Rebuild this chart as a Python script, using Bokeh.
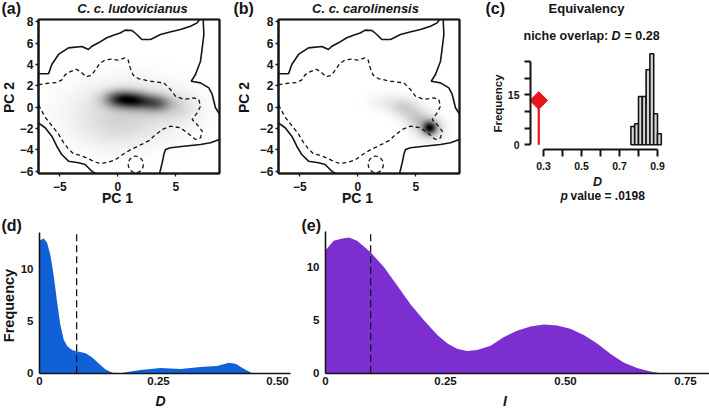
import math
import numpy as np
from bokeh.plotting import figure
from bokeh.models import FixedTicker, LinearColorMapper, Range1d
from bokeh.core.properties import value
from bokeh.layouts import row, column
from bokeh.embed import file_html
from bokeh.resources import INLINE

FONT = "Liberation Sans"
INK = "#141414"
RED = "#e3161d"
BLUE = "#1060d8"
PURPLE = "#7b2fd1"

# ---------------- data ----------------
pc1_ticks = [-5, 0, 5]
pc2_ticks = [-6, -4, -2, 0, 2, 4, 6, 8]

# background environment contour (solid), PC space
outer_top_x = [-6.84, -5.97, -5.69, -5.11, -4.25, -3.10, -2.53, -2.24, -1.66, -0.95, -0.37, 0.20, 0.64, 1.21, 1.64, 2.07, 2.82, 3.68, 4.50, 5.40, 6.27, 6.84, 7.05]
outer_top_y = [3.13, 3.13, 4.00, 4.94, 5.56, 5.68, 5.40, 5.71, 6.03, 6.50, 6.75, 6.95, 7.22, 7.19, 6.81, 6.34, 6.34, 6.81, 7.05, 7.28, 7.59, 7.90, 8.22]
outer_right_x = [7.36, 7.42, 7.28, 7.13, 6.70, 6.33, 7.13, 7.85, 8.14, 8.42, 8.76]
outer_right_y = [8.22, 6.81, 5.56, 4.31, 3.06, 2.43, 2.28, 1.81, 1.19, -0.06, -0.62]
outer_lr_x = [8.76, 7.99, 7.13, 5.69, 4.54, 4.11, 3.97, 3.83, 3.60]
outer_lr_y = [-3.03, -3.34, -3.50, -3.66, -3.81, -3.97, -4.44, -5.20, -6.21]
outer_ll_x = [-6.84, -6.26, -5.69, -5.26, -4.83, -4.25, -3.39, -2.81, -2.24, -1.94]
outer_ll_y = [-1.47, -1.93, -2.72, -3.66, -4.44, -5.06, -5.21, -5.37, -6.00, -6.21]

# inner contour (dashed), PC space
dash_x = [-6.84, -6.15, -5.28, -4.85, -4.57, -4.14, -3.56, -3.13, -2.70, -2.27, -1.84, -1.55, -1.12, -0.54, 0.03, 0.60, 0.90, 1.03, 1.33, 1.76, 2.82, 3.97, 4.54, 4.97, 5.69, 6.55, 6.98, 7.13, 6.84, 6.41, 6.84, 7.28, 7.13, 6.70, 5.98, 5.40, 4.54, 3.83, 3.10, 2.76, 2.19, 1.61, 1.03, 0.32, -0.26, -0.97, -1.55, -2.12, -2.70, -3.28, -3.84, -4.28, -4.71, -5.14, -5.72, -6.29, -6.84]
dash_y = [2.12, 2.22, 2.31, 2.53, 3.00, 3.31, 3.56, 3.25, 2.84, 3.00, 3.62, 4.09, 4.41, 4.50, 4.41, 4.62, 4.41, 3.78, 3.00, 2.68, 2.43, 2.28, 1.65, 1.03, 0.72, 0.88, 0.72, 0.09, -0.53, -1.16, -1.63, -2.25, -2.87, -3.03, -2.40, -1.93, -1.78, -2.09, -2.72, -3.10, -3.41, -3.72, -4.03, -4.50, -4.97, -5.19, -5.28, -5.06, -4.75, -4.50, -4.35, -3.88, -3.25, -2.47, -1.69, -0.91, 0.25]
ring_x = [1.55]
ring_y = [-5.37]
ring_w = [1.30]
ring_h = [1.55]

# kernel-density blobs read from the shading (centre x, centre y, spread x, spread y, weight)
lud_cx = [0.20, 1.70, 3.40, 1.00, -0.50, 5.30]
lud_cy = [0.75, 0.60, 0.35, -0.30, -2.50, 0.00]
lud_sx = [0.95, 0.90, 0.85, 3.30, 2.20, 1.10]
lud_sy = [0.55, 0.55, 0.55, 1.80, 1.30, 0.80]
lud_w = [1.00, 0.85, 0.70, 0.25, 0.08, 0.14]

car_cx = [6.25, 6.20, 5.20, 4.10, 2.50]
car_cy = [-1.95, -2.00, -1.10, -0.05, 0.50]
car_sx = [0.40, 0.85, 0.80, 0.90, 1.10]
car_sy = [0.40, 0.75, 0.60, 0.60, 0.60]
car_w = [1.00, 0.30, 0.22, 0.22, 0.08]

# (c) equivalency test: null distribution of D
eq_left = [0.76, 0.78, 0.80, 0.82, 0.84, 0.86, 0.88, 0.90]
eq_right = [0.78, 0.80, 0.82, 0.84, 0.86, 0.88, 0.90, 0.92]
eq_count = [5.5, 6.3, 14.5, 14.5, 22.5, 27.3, 9.3, 3.3]
obs_D = 0.275
obs_freq = 13.3
c_xticks = [0.3, 0.5, 0.7, 0.9]
c_xminor = [0.4, 0.6, 0.8]
c_yticks = [0, 15]
c_yminor = [5, 10, 20, 25]

# (d) density of D
d_x = [0.0, 0.009, 0.016, 0.023, 0.030, 0.037, 0.044, 0.051, 0.058, 0.069, 0.083, 0.097, 0.111, 0.125, 0.139, 0.153, 0.170, 0.188, 0.212, 0.254, 0.296, 0.338, 0.373, 0.398, 0.412, 0.430, 0.447]
d_y = [12.7, 12.9, 12.5, 11.3, 9.3, 6.8, 4.6, 3.2, 2.6, 2.2, 2.05, 1.9, 1.5, 0.9, 0.35, 0.05, 0.0, 0.15, 0.3, 0.5, 0.4, 0.6, 0.7, 1.0, 0.9, 0.4, 0.0]
d_obs = 0.078
d_ticks = [0, 0.25, 0.5]
# (e) density of I
i_x = [0.0, 0.017, 0.035, 0.049, 0.066, 0.094, 0.122, 0.149, 0.177, 0.205, 0.233, 0.254, 0.274, 0.295, 0.316, 0.344, 0.371, 0.399, 0.427, 0.455, 0.483, 0.510, 0.538, 0.566, 0.594, 0.621, 0.649, 0.677, 0.698]
i_y = [11.6, 12.5, 12.7, 12.8, 12.5, 11.4, 10.0, 8.3, 6.5, 5.0, 3.6, 2.8, 2.3, 2.1, 2.2, 2.6, 3.4, 4.0, 4.4, 4.6, 4.5, 4.2, 3.6, 2.8, 1.8, 1.0, 0.5, 0.16, 0.0]
i_obs = 0.094
i_ticks = [0, 0.25, 0.5, 0.75]
de_yticks = [0, 5, 10]

# ---------------- pixel <-> data mappings (page px) ----------------
def lin(p0, v0, p1, v1):
    return lambda p: v0 + (p - p0) * (v1 - v0) / (p1 - p0)

AX = lin(117.3, 0.0, 175.3, 5.0)
BX = lin(357.3, 0.0, 415.3, 5.0)
ABY = lin(21.3, 8.0, 170.7, -6.0)
CX = lin(543.0, 0.3, 657.0, 0.9)
CY = lin(144.3, 0.0, 94.3, 15.0)
DX = lin(39.0, 0.0, 277.0, 0.5)
DY = lin(372.7, 0.0, 268.3, 10.0)
EX = lin(325.0, 0.0, 685.0, 0.75)
EY = lin(372.7, 0.0, 266.7, 10.0)


def style_axis(ax):
    ax.major_label_text_font = FONT
    ax.major_label_text_font_style = "bold"
    ax.major_label_text_color = INK
    ax.major_tick_line_color = INK
    ax.minor_tick_line_color = INK
    ax.axis_line_color = INK
    ax.major_tick_in = 0
    ax.minor_tick_in = 0


def canvas_fig(px0, px1, py0, py1, fx, fy):
    p = figure(width=px1 - px0, height=py1 - py0,
               x_range=Range1d(fx(px0), fx(px1)), y_range=Range1d(fy(py1), fy(py0)),
               output_backend="svg", toolbar_location=None, title=None,
               min_border_left=0, min_border_right=0, min_border_top=0, min_border_bottom=0)
    p.outline_line_color = None
    p.xgrid.visible = False
    p.ygrid.visible = False
    p.background_fill_color = "white"
    p.border_fill_color = "white"
    for ax in (p.xaxis[0], p.yaxis[0]):
        style_axis(ax)
    return p


def txt(p, fx, fy, px, py, text, size, style="bold", align="center", angle=0.0):
    p.text(x=[fx(px)], y=[fy(py)], text=[text], text_font=value(FONT),
           text_font_size=value(f"{size}px"), text_font_style=value(style),
           text_align=value(align), text_baseline=value("middle"), angle=angle,
           text_color=INK)


GRAYS = ["#%02x%02x%02x" % (v, v, v) for v in range(255, -1, -1)]


def density(xr, yr, cx, cy, sx, sy, w):
    gx = np.linspace(xr[0], xr[1], 180)
    gy = np.linspace(yr[0], yr[1], 152)
    X, Y = np.meshgrid(gx, gy)
    Z = np.zeros_like(X)
    for a, b, c, d, e in zip(cx, cy, sx, sy, w):
        Z += e * np.exp(-0.5 * (((X - a) / c) ** 2 + ((Y - b) / d) ** 2))
    return Z


def niche_panel(px0, px1, fx, box_px, blobs, letter, title, letter_x, title_x, pc2_x, pc1_x):
    fy = ABY
    p = canvas_fig(px0, px1, 0, 205, fx, fy)
    bl, br = fx(box_px[0]), fx(box_px[1])
    bt, bb = fy(19), fy(173)
    il, ir = fx(box_px[0] + 1), fx(box_px[1] - 1)
    it, ib = fy(20), fy(172)
    Z = density((il, ir), (ib, it), *blobs)
    mapper = LinearColorMapper(palette=GRAYS, low=0, high=float(Z.max()) * 0.97)
    p.image(image=[Z], x=il, y=ib, dw=ir - il, dh=it - ib, color_mapper=mapper)
    # plot box: a polygon outline, four edge segments and a closed polyline
    box_xs = [bl, br, br, bl, bl]
    box_ys = [bb, bb, bt, bt, bb]
    p.multi_line(xs=[box_xs, outer_top_x, outer_right_x, outer_lr_x, outer_ll_x],
                 ys=[box_ys, outer_top_y, outer_right_y, outer_lr_y, outer_ll_y],
                 line_color=INK, line_width=1.6)
    p.quad(left=[bl], right=[br], bottom=[bb], top=[bt], fill_color=None,
           fill_alpha=0, line_color=INK, line_width=1.6)
    p.segment(x0=[bl, br, br, bl], y0=[bb, bb, bt, bt], x1=[br, br, bl, bl],
              y1=[bb, bt, bt, bb], line_color=INK, line_width=1.6)
    p.line(dash_x, dash_y, line_color=INK, line_width=1.3, line_dash="4 3")
    p.ellipse(x=ring_x, y=ring_y, width=ring_w, height=ring_h, fill_color=None,
              line_color=INK, line_width=1.3, line_dash="4 3")
    xa, ya = p.xaxis[0], p.yaxis[0]
    xa.ticker = FixedTicker(ticks=pc1_ticks)
    ya.ticker = FixedTicker(ticks=pc2_ticks)
    xa.fixed_location = bb
    ya.fixed_location = bl
    xa.bounds = (bl, br)
    ya.bounds = (bb, bt)
    for ax in (xa, ya):
        ax.axis_line_color = INK
        ax.axis_line_width = 1.6
        ax.major_tick_out = 3
        ax.major_tick_line_width = 1.3
        ax.major_label_text_font_size = "12px"
    xa.major_label_standoff = 5
    ya.major_label_standoff = 2
    txt(p, fx, fy, letter_x, 8, letter, 16, align="left")
    txt(p, fx, fy, title_x, 8, title, 13, style="bold italic")
    txt(p, fx, fy, pc2_x, 97, "PC 2", 14, angle=math.pi / 2)
    txt(p, fx, fy, pc1_x, 197, "PC 1", 14)
    return p


pa = niche_panel(0, 232, AX, (38, 219), (lud_cx, lud_cy, lud_sx, lud_sy, lud_w),
                 "(a)", "C. c. ludovicianus", 1, 132, 8, 117)
pb = niche_panel(232, 462, BX, (278, 459), (car_cx, car_cy, car_sx, car_sy, car_w),
                 "(b)", "C. c. carolinensis", 233, 365, 243, 357)

# ---- (c) ----
pc = canvas_fig(462, 709, 0, 205, CX, CY)
pc.quad(left=eq_left, right=eq_right, bottom=0, top=eq_count,
        fill_color="#d6d6d6", line_color=INK, line_width=1.6)
pc.segment(x0=[obs_D], y0=[0], x1=[obs_D], y1=[obs_freq], line_color=RED, line_width=2.2)
pc.scatter(x=[obs_D], y=[obs_freq], marker="square", angle=math.pi / 4, size=12.5,
           fill_color=RED, line_color=RED)
cxa, cya = pc.xaxis[0], pc.yaxis[0]
cxa.ticker = FixedTicker(ticks=c_xticks, minor_ticks=c_xminor)
cya.ticker = FixedTicker(ticks=c_yticks, minor_ticks=c_yminor)
cxa.fixed_location = CY(149)
cya.fixed_location = CX(530)
cxa.bounds = (0.3, 0.9)
cya.bounds = (0, 25)
for ax, t in ((cxa, 7), (cya, 6)):
    ax.axis_line_width = 2
    ax.major_tick_line_width = 2
    ax.minor_tick_line_width = 2
    ax.major_tick_out = t
    ax.minor_tick_out = t
    ax.major_label_text_font_size = "10.5px"
cxa.major_label_standoff = 5
cya.major_label_standoff = 5
txt(pc, CX, CY, 485, 8, "(c)", 16, align="left")
txt(pc, CX, CY, 586, 8, "Equivalency", 13)
txt(pc, CX, CY, 523, 35, "niche overlap:", 12.5, align="left")
txt(pc, CX, CY, 611, 35, "D", 12.5, style="bold italic", align="left")
txt(pc, CX, CY, 624, 35, "= 0.28", 12.5, align="left")
txt(pc, CX, CY, 497, 103, "Frequency", 11.5, angle=math.pi / 2)
txt(pc, CX, CY, 597, 181, "D", 12.5, style="bold italic")
txt(pc, CX, CY, 560, 195, "p", 12, style="bold italic", align="left")
txt(pc, CX, CY, 570, 195, "value = .0198", 12, align="left")


def dens_panel(px0, px1, fx, fy, xs, ys, color, obs, ticks, top_px, right_px):
    p = canvas_fig(px0, px1, 205, 408, fx, fy)
    top = fy(top_px)
    p.varea(x=xs, y1=[0] * len(xs), y2=ys, fill_color=color)
    p.segment(x0=[obs], y0=[0], x1=[obs], y1=[top], line_color=INK,
              line_dash="7 4", line_width=1.3)
    xa, ya = p.xaxis[0], p.yaxis[0]
    xa.ticker = FixedTicker(ticks=ticks)
    ya.ticker = FixedTicker(ticks=de_yticks)
    xa.major_label_overrides = {0.5: "0.50"}
    xa.fixed_location = 0
    ya.fixed_location = 0
    xa.bounds = (0, fx(right_px))
    ya.bounds = (0, top)
    for ax in (xa, ya):
        ax.axis_line_width = 1.6
        ax.major_tick_out = 0
        ax.major_label_text_font_size = "11.5px"
    xa.major_label_standoff = 4
    ya.major_label_standoff = 6
    return p


pd_ = dens_panel(0, 300, DX, DY, d_x, d_y, BLUE, d_obs, d_ticks, 231.7, 290)
txt(pd_, DX, DY, 1, 225, "(d)", 16, align="left")
txt(pd_, DX, DY, 8.5, 305, "Frequency", 14.5, angle=math.pi / 2)
txt(pd_, DX, DY, 160, 400, "D", 14, style="bold italic")

pe = dens_panel(300, 709, EX, EY, i_x, i_y, PURPLE, i_obs, i_ticks, 230.7, 709)
txt(pe, EX, EY, 301, 225, "(e)", 16, align="left")
txt(pe, EX, EY, 504.5, 400, "I", 14, style="bold italic")

layout = column(row(pa, pb, pc), row(pd_, pe))
open("out.html", "w").write(file_html(layout, INLINE))
